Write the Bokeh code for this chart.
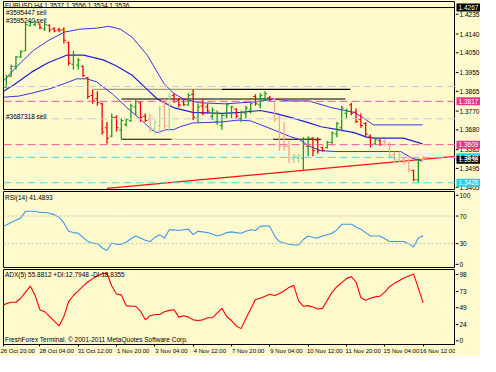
from bokeh.plotting import figure
from bokeh.layouts import column, row
from bokeh.models import FixedTicker, Label, Span, Range1d
from bokeh.core.properties import value
from bokeh.embed import file_html
from bokeh.resources import INLINE

BG = "#FFFACD"
FONT = "Liberation Sans"

# ---------------- data ----------------
bar_idx = list(range(1, 89))
opens = [1.3885,1.3938,1.3985,1.4030,1.4060,1.4180,1.4185,1.4188,1.4165,1.4182,
         1.4165,1.4160,1.4160,1.4100,1.3995,1.3990,1.3985,1.3930,1.3845,1.3830,
         1.3805,1.3690,1.3650,1.3740,1.3680,1.3705,1.3725,1.3790,1.3810,1.3745,
         1.3730,1.3685,1.3700,1.3790,1.3700,1.3845,1.3820,1.3815,1.3800,1.3850,
         1.3735,1.3795,1.3790,1.3745,1.3720,1.3700,1.3750,1.3760,1.3780,1.3735,
         1.3760,1.3775,1.3840,1.3800,1.3830,1.3835,1.3825,1.3735,1.3640,1.3600,
         1.3540,1.3545,1.3545,1.3600,1.3640,1.3630,1.3595,1.3595,1.3620,1.3660,
         1.3690,1.3760,1.3800,1.3765,1.3730,1.3710,1.3650,1.3612,1.3630,1.3625,
         1.3610,1.3560,1.3535,1.3540,1.3530,1.3485,1.3440,1.3537]
highs = [1.3943,1.3993,1.4035,1.4062,1.4195,1.4200,1.4205,1.4190,1.4195,1.4186,
         1.4172,1.4170,1.4172,1.4103,1.4058,1.4025,1.3989,1.3934,1.3874,1.3865,
         1.3810,1.3718,1.3759,1.3750,1.3736,1.3736,1.3805,1.3828,1.3815,1.3759,
         1.3759,1.3727,1.3796,1.3828,1.3856,1.3856,1.3833,1.3828,1.3856,1.3874,
         1.3805,1.3828,1.3805,1.3787,1.3773,1.3759,1.3810,1.3796,1.3782,1.3773,
         1.3796,1.3810,1.3851,1.3856,1.3865,1.3842,1.3833,1.3750,1.3718,1.3626,
         1.3567,1.3567,1.3645,1.3649,1.3645,1.3645,1.3599,1.3626,1.3672,1.3718,
         1.3796,1.3782,1.3810,1.3782,1.3759,1.3718,1.3658,1.3645,1.3635,1.3635,
         1.3622,1.3576,1.3576,1.3544,1.3544,1.3489,1.3544,1.3556]
lows = [1.3879,1.3934,1.3970,1.4025,1.4058,1.4177,1.4177,1.4163,1.4154,1.4149,
        1.4149,1.4149,1.4094,1.3989,1.3970,1.3970,1.3934,1.3828,1.3805,1.3796,
        1.3658,1.3613,1.3645,1.3672,1.3635,1.3695,1.3718,1.3750,1.3718,1.3718,
        1.3667,1.3658,1.3658,1.3672,1.3672,1.3810,1.3787,1.3796,1.3796,1.3727,
        1.3713,1.3750,1.3759,1.3727,1.3704,1.3681,1.3736,1.3736,1.3736,1.3718,
        1.3736,1.3759,1.3796,1.3782,1.3819,1.3819,1.3718,1.3580,1.3580,1.3521,
        1.3521,1.3521,1.3489,1.3553,1.3553,1.3567,1.3576,1.3590,1.3613,1.3645,
        1.3672,1.3736,1.3750,1.3713,1.3690,1.3645,1.3595,1.3608,1.3603,1.3603,
        1.3544,1.3521,1.3521,1.3512,1.3475,1.3434,1.3426,1.3534]
closes = [1.3935,1.3985,1.4030,1.4055,1.4185,1.4195,1.4198,1.4170,1.4185,1.4160,
          1.4155,1.4158,1.4110,1.4000,1.4040,1.4015,1.3940,1.3840,1.3820,1.3810,
          1.3670,1.3640,1.3740,1.3690,1.3725,1.3730,1.3795,1.3815,1.3740,1.3725,
          1.3690,1.3715,1.3780,1.3700,1.3840,1.3815,1.3800,1.3800,1.3845,1.3740,
          1.3790,1.3760,1.3770,1.3775,1.3760,1.3750,1.3800,1.3790,1.3745,1.3765,
          1.3785,1.3805,1.3805,1.3845,1.3855,1.3825,1.3730,1.3600,1.3600,1.3545,
          1.3555,1.3555,1.3635,1.3640,1.3580,1.3580,1.3580,1.3620,1.3665,1.3710,
          1.3785,1.3770,1.3760,1.3720,1.3700,1.3660,1.3610,1.3635,1.3610,1.3608,
          1.3555,1.3540,1.3560,1.3525,1.3490,1.3440,1.3537,1.3536]
faded_bars = [31, 32, 33, 34, 35, 57, 58, 59, 60, 61, 62, 80, 81, 82, 83, 84, 85, 88]

# Bollinger-type bands (bar index, price)
upper_x = [0.4,2.6,4.6,6.7,9.7,13.1,16.3,19.8,22.4,24.8,27.2,30.4,33.9,35.9,37.9,41.3,46.6,50,53.4,56.7,60.1,64.1,68.8,73.6,75.6,77.6,87.9]
upper_y = [1.3915,1.3970,1.4016,1.4062,1.4108,1.4149,1.4163,1.4168,1.4177,1.4163,1.4126,1.4039,1.3902,1.3856,1.3828,1.3810,1.3805,1.3810,1.3815,1.3828,1.3819,1.3819,1.3787,1.3764,1.3736,1.3704,1.3704]
mid_x = [0.4,2.6,6.25,9.7,13.7,17.1,21.2,23.8,27.2,30.4,32.5,35.9,39.9,46,50,54,57.1,60.1,63.5,66.7,70.2,73.6,76.2,77.6,83.9,87.9]
mid_y = [1.3865,1.3897,1.3957,1.4002,1.4039,1.4039,1.4016,1.3989,1.3943,1.3874,1.3828,1.3787,1.3764,1.3759,1.3764,1.3773,1.3759,1.3741,1.3718,1.3695,1.3681,1.3667,1.3645,1.3640,1.3640,1.3613]
lower_x = [0.4,3.6,6.25,10.3,13.1,15.7,17.7,19.8,23.2,26.4,29.2,31.3,32.5,34.5,35.9,37.3,39.9,46,49.4,52,56.7,60.1,62.1,64.1,66.7,69.6,83.3,85.7,87.9]
lower_y = [1.3837,1.3842,1.3856,1.3879,1.3902,1.3925,1.3925,1.3911,1.3851,1.3782,1.3727,1.3681,1.3667,1.3681,1.3681,1.3695,1.3713,1.3718,1.3727,1.3723,1.3681,1.3649,1.3635,1.3603,1.3580,1.3576,1.3576,1.3544,1.3530]

# horizontal drawn segments: start index, end index, price, colour
hseg_x0 = [19.2, 46.0, 25.0, 25.0, 35.5, 56.7]
hseg_x1 = [46.0, 72.8, 71.8, 35.5, 56.7, 66.7]
hseg_y = [1.3874, 1.3874, 1.3828, 1.3635, 1.3635, 1.3635]
hseg_c = ["#A49C78", "#000000", "#000000", "#000000", "#C8C2A6", "#000000"]

# trend line
trend_x = [22.0, 94.8]
trend_y = [1.3399, 1.3553]

# full width levels
magenta_levels = [1.3817, 1.3609]
cyan_levels = [1.3548, 1.3426]
order_levels = [1.3888, 1.3733]
top_level = 1.4267

price_tick_labels = ["1.4235","1.4140","1.4050","1.3955","1.3865","1.3770","1.3680","1.3585","1.3495","1.3405"]
box_labels = ["1.4267", "1.3817", "1.3609", "1.3548", "1.3536", "1.3426"]
box_colors = ["#000000", "#E8348C", "#E8348C", "#18D6E6", "#000000", "#18D6E6"]

rsi_idx = list(range(0, 89))
rsi = [55,57,61,64,67,77,77,77,75,75,74,72,68,60,48,46,45,39,33,31,
       30,24,20,31,29,29,32,37,41,38,35,33,39,43,38,50,50,49,50,51,
       43,48,47,46,44,41,43,46,47,46,45,48,50,49,55,56,55,41,33,31,
       29,28,28,36,41,39,38,41,43,45,50,58,58,58,54,51,46,41,41,41,
       37,33,33,33,33,30,25,38,41.5]
rsi_ticks = [100, 70, 30, 0]
adx = [52,55,57,57,63,72,81,67,46,43,36,29,22,36,58,67,74,81,87,92,
       96,99,100,81,69,68,52,51,51,44,31,37,39,39,43,45,46,35,37,35,
       31,30,31,34,34,41,48,36,30,22,18,33,47,61,63,66,69,67,70,74,
       79,82,59,51,52,50,47,48,60,72,80,86,92,95,87,64,60,63,65,66,
       72,80,85,89,93,96,99,78,56]
adx_ticks = [98, 73, 49, 24, 0]

date_ticks = [0.4, 8, 16, 24, 32, 40, 48, 56, 64, 72, 80, 88]
date_labels = ["26 Oct 20:00", "28 Oct 04:00","31 Oct 12:00","1 Nov 20:00","3 Nov 04:00","4 Nov 12:00",
               "7 Nov 20:00","9 Nov 04:00","10 Nov 12:00","11 Nov 20:00","15 Nov 04:00","16 Nov 12:00"]

# ---------------- figures ----------------
X0, X1 = 0.4, 94.76
xr = Range1d(X0, X1)
SCALE_W = 25
scale_xr = Range1d(0, SCALE_W)


def panel(height, y_range, bottom_axis=False):
    p = figure(width=455, height=height, x_range=xr, y_range=y_range,
               output_backend="svg", toolbar_location=None,
               y_axis_location=None, x_axis_location="below" if bottom_axis else None,
               min_border_left=3, min_border_right=0, min_border_top=1,
               min_border_bottom=11 if bottom_axis else 0,
               background_fill_color=BG, border_fill_color=BG)
    p.grid.visible = False
    p.outline_line_color = "black"
    p.outline_line_width = 1
    return p


def scale(height, y_range, ticks, labels, bottom_pad=0):
    """price-scale column at the right: ticks and labels placed through the shared y scale"""
    s = figure(width=SCALE_W, height=height, x_range=scale_xr, y_range=y_range,
               output_backend="svg", toolbar_location=None,
               x_axis_location=None, y_axis_location=None,
               min_border_left=0, min_border_right=0, min_border_top=1,
               min_border_bottom=bottom_pad,
               background_fill_color=BG, border_fill_color=BG)
    s.grid.visible = False
    s.outline_line_color = None
    s.segment(x0=[0] * len(ticks), x1=[3] * len(ticks), y0=ticks, y1=ticks,
              line_color="black", line_width=1)
    s.text(x=[4] * len(ticks), y=ticks, text=labels, text_font=value(FONT),
           text_font_size="6.5px", text_color="black", text_align="left", text_baseline="middle")
    return s


def txt(p, x, y, s, color="black", size="6.5px"):
    p.add_layout(Label(x=x, y=y, text=s, text_color=color, text_font=FONT, text_font_size=size,
                       text_align="left", text_baseline="middle"))


# main price panel
price_ticks = [float(s) for s in price_tick_labels]
yr1 = Range1d(1.3389, 1.4296)
p1 = panel(190, yr1)

p1.add_layout(Span(location=top_level, dimension="width", line_color="black", line_width=1))
for lv in order_levels:
    p1.add_layout(Span(location=lv, dimension="width", line_color="#C9C9EC", line_width=1, line_dash="8 4"))
for lv in magenta_levels:
    p1.add_layout(Span(location=lv, dimension="width", line_color="#F0559E", line_width=1, line_dash="8 4"))
for lv in cyan_levels:
    p1.add_layout(Span(location=lv, dimension="width", line_color="#3ADDE6", line_width=1, line_dash="8 4"))

p1.segment(x0=hseg_x0, x1=hseg_x1, y0=hseg_y, y1=hseg_y, line_color=hseg_c, line_width=1.2)
p1.line(trend_x, trend_y, line_color="#FF1010", line_width=1.3)

p1.line(upper_x, upper_y, line_color="#3535E8", line_width=1)
p1.line(mid_x, mid_y, line_color="#2020D8", line_width=1.2)
p1.line(lower_x, lower_y, line_color="#3535E8", line_width=1)

colors = []
for i, o, c in zip(bar_idx, opens, closes):
    up = c >= o
    if i in faded_bars:
        colors.append("#A6D89E" if up else "#F6A690")
    else:
        colors.append("#1F9A1F" if up else "#F00000")
p1.segment(x0=bar_idx, x1=bar_idx, y0=lows, y1=highs, line_color=colors, line_width=1.3)
p1.segment(x0=[i - 0.45 for i in bar_idx], x1=bar_idx, y0=opens, y1=opens, line_color=colors, line_width=1)
p1.segment(x0=bar_idx, x1=[i + 0.45 for i in bar_idx], y0=closes, y1=closes, line_color=colors, line_width=1)

txt(p1, 0.7, 1.4278, "EURUSD,H4  1.3537 1.3556 1.3534 1.3536")
txt(p1, 0.9, 1.4241, "#3595447 sell")
txt(p1, 0.9, 1.4204, "#3595240 sell")
txt(p1, 0.9, 1.3746, "#3687318 sell")

s1 = scale(190, yr1, price_ticks, price_tick_labels)
box_vals = [float(s) for s in box_labels]
s1.rect(x=[SCALE_W / 2 + 0.5] * len(box_vals), y=box_vals, width=SCALE_W - 1, height=8,
        height_units="screen", fill_color=box_colors, line_color=None)
s1.text(x=[3] * len(box_vals), y=box_vals, text=box_labels, text_font=value(FONT),
        text_font_size="6.5px", text_color="white", text_align="left", text_baseline="middle")

# RSI panel
yr2 = Range1d(-6.0, 105.5)
p2 = panel(78, yr2)
for lv in (70, 30):
    p2.add_layout(Span(location=lv, dimension="width", line_color="#C4C0AE", line_width=1, line_dash="2 2"))
p2.line(rsi_idx, rsi, line_color="#3D98E8", line_width=1.1)
txt(p2, 0.7, 97.5, "RSI(14) 41.4893")
s2 = scale(78, yr2, rsi_ticks, [str(t) for t in rsi_ticks])

# ADX panel
yr3 = Range1d(-5.5, 105.5)
p3 = panel(88, yr3, bottom_axis=True)
p3.line(rsi_idx, adx, line_color="#FF0000", line_width=1.1)
txt(p3, 0.7, 98, "ADX(5) 55.8812 +DI:12.7948 -DI:18.8355")
txt(p3, 0.7, 2.0, "FreshForex Terminal. \u00a9 2001-2011 MetaQuotes Software Corp.")
xa = p3.xaxis[0]
xa.ticker = FixedTicker(ticks=date_ticks)
# MetaTrader writes each date to the right of its tick: pad with no-break spaces
overrides = {t: "\u00a0" * 20 + s for t, s in zip(date_ticks, date_labels)}
overrides[date_ticks[0]] = date_labels[0]
xa.major_label_overrides = overrides
xa.major_label_text_font = FONT
xa.major_label_text_font_size = "6px"
xa.major_label_text_color = "black"
xa.major_label_standoff = 1
xa.major_tick_out = 2
xa.major_tick_in = 0
xa.minor_tick_out = 0
xa.minor_tick_in = 0
xa.axis_line_color = "black"
s3 = scale(88, yr3, adx_ticks, [str(t) for t in adx_ticks], bottom_pad=11)

layout = column(row(p1, s1, spacing=0), row(p2, s2, spacing=0), row(p3, s3, spacing=0),
                spacing=0, background=BG)
open("out.html", "w").write(file_html(layout, INLINE))
